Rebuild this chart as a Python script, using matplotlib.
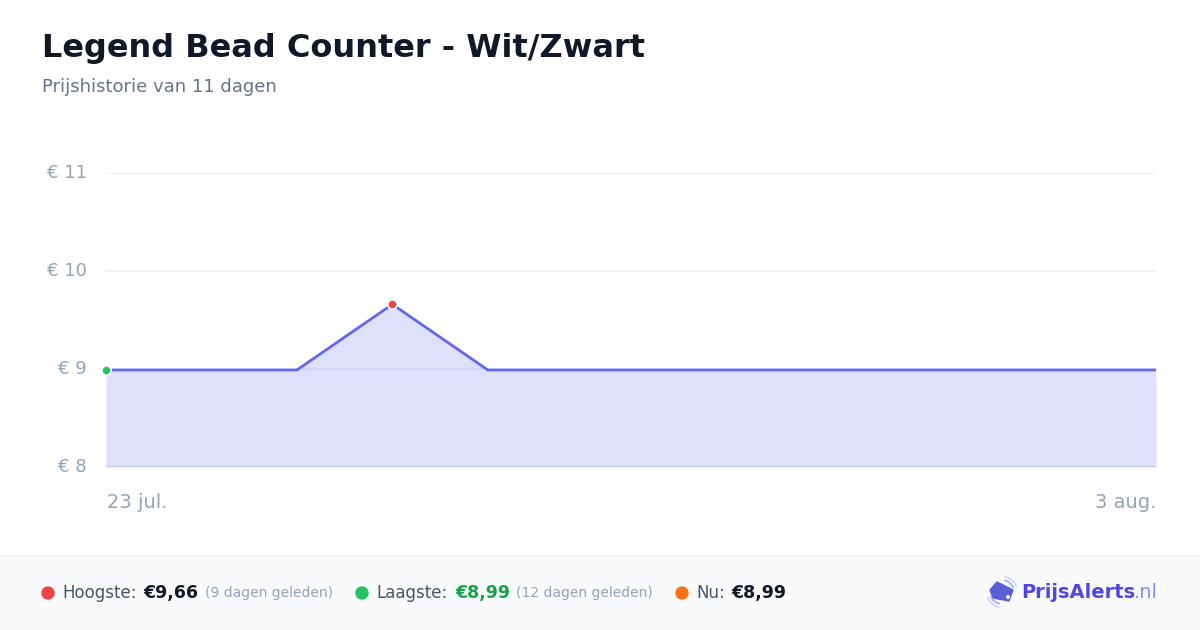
import matplotlib
matplotlib.use("Agg")
import matplotlib.pyplot as plt
import matplotlib.patches as mpatches
from matplotlib.patches import Polygon, Arc, Rectangle
import numpy as np

# ---- data ----
dates = ["23 jul.", "24 jul.", "25 jul.", "26 jul.", "27 jul.", "28 jul.", "29 jul.",
         "30 jul.", "31 jul.", "1 aug.", "2 aug.", "3 aug."]
prices = [8.99, 8.99, 8.99, 9.66, 8.99, 8.99, 8.99, 8.99, 8.99, 8.99, 8.99, 8.99]
y_ticks = [8, 9, 10, 11]
y_tick_labels = ["€ 8", "€ 9", "€ 10", "€ 11"]
x_tick_labels = ["23 jul.", "3 aug."]
title = "Legend Bead Counter - Wit/Zwart"
subtitle = "Prijshistorie van 11 dagen"

plt.rcParams['font.family'] = ['DejaVu Sans']
W, H = 1200, 630
fig = plt.figure(figsize=(W / 100, H / 100), dpi=100)
fig.patch.set_facecolor("white")

def fx(px):
    return px / W

def fy(py):
    return 1 - py / H

# Title & subtitle
fig.text(fx(42), fy(48), title, fontsize=23, fontweight="heavy", color="#111827",
         va="center", ha="left")
fig.text(fx(42), fy(87), subtitle, fontsize=13, color="#64748b", va="center", ha="left")

# Chart axes
ax = fig.add_axes([fx(106), fy(467), fx(1156) - fx(106), fy(173) - fy(467)])
x = np.arange(len(prices))
ax.set_xlim(0, len(prices) - 1)
ax.set_ylim(8, 11)
for yt in y_ticks[1:]:
    ax.axhline(yt, color="#f1f2f4", lw=1.5, zorder=0)
ax.axhline(8, color="#e2e4e9", lw=1.5, zorder=0)
ax.fill_between(x, prices, 8, color="#6366f1", alpha=0.2, lw=0, zorder=1)
ax.plot(x, prices, color="#6366f1", lw=2, zorder=2, solid_joinstyle="miter")
imax = int(np.argmax(prices))
imin = int(np.argmin(prices))
ax.scatter([x[imax]], [prices[imax]], s=45, color="#ef4444", edgecolor="white",
           linewidth=1.2, zorder=5, clip_on=False)
ax.scatter([x[imin]], [prices[imin]], s=45, color="#22c55e", edgecolor="white",
           linewidth=1.2, zorder=5, clip_on=False)
for s in ax.spines.values():
    s.set_visible(False)
ax.set_xticks([])
ax.set_yticks([])
for yt, lab in zip(y_ticks, y_tick_labels):
    ax.text(fx(87), yt, lab, transform=matplotlib.transforms.blended_transform_factory(
        fig.transFigure, ax.transData), ha="right", va="center",
        fontsize=13, color="#94a3b8")
ax.text(fx(107), fy(503), x_tick_labels[0], transform=fig.transFigure, ha="left", va="center",
        fontsize=14, color="#94a3b8")
ax.text(fx(1156), fy(503), x_tick_labels[1], transform=fig.transFigure, ha="right", va="center",
        fontsize=14, color="#94a3b8")

# Footer
footer = Rectangle((0, 0), 1, fy(555), transform=fig.transFigure, facecolor="#f9fafb",
                   edgecolor="none", zorder=-1)
fig.patches.append(footer)
fig.add_artist(plt.Line2D([0, 1], [fy(555), fy(555)], transform=fig.transFigure,
                          color="#eef0f3", lw=1))

fyy = fy(593)

def dot(px, color):
    fig.add_artist(mpatches.Ellipse((fx(px), fyy), width=12 / W, height=12 / H,
                                    transform=fig.transFigure, color=color))

dot(48, "#ef4444")
fig.text(fx(62), fyy, "Hoogste:", fontsize=12, color="#475569", va="center")
fig.text(fx(143), fyy, "€9,66", fontsize=12.5, color="#111827", fontweight="bold", va="center")
fig.text(fx(205), fyy, "(9 dagen geleden)", fontsize=10, color="#94a3b8", va="center")
dot(362, "#22c55e")
fig.text(fx(376), fyy, "Laagste:", fontsize=12, color="#475569", va="center")
fig.text(fx(455), fyy, "€8,99", fontsize=12.5, color="#16a34a", fontweight="bold", va="center")
fig.text(fx(516), fyy, "(12 dagen geleden)", fontsize=10, color="#94a3b8", va="center")
dot(682, "#f97316")
fig.text(fx(696), fyy, "Nu:", fontsize=12, color="#475569", va="center")
fig.text(fx(731), fyy, "€8,99", fontsize=12.5, color="#111827", fontweight="bold", va="center")

# Logo
logo_ax = fig.add_axes([fx(986), fy(610), fx(34), fy(576) - fy(610)])
logo_ax.set_xlim(0, 34)
logo_ax.set_ylim(0, 34)
logo_ax.axis("off")
tag = Polygon([[4, 20], [11, 28], [27, 20], [23, 9], [7, 12]], closed=True,
              facecolor="#5b5fd6", edgecolor="#5b5fd6", lw=1.0, joinstyle="round")
logo_ax.add_patch(tag)
logo_ax.add_patch(mpatches.Circle((22, 13), 1.3, color="white"))
logo_ax.add_patch(Arc((16, 18), 24, 24, theta1=20, theta2=80, color="#a5b4fc", lw=1.3))
logo_ax.add_patch(Arc((16, 18), 31, 31, theta1=20, theta2=80, color="#c7d2fe", lw=1.1))
logo_ax.add_patch(Arc((16, 18), 24, 24, theta1=200, theta2=260, color="#a5b4fc", lw=1.3))
logo_ax.add_patch(Arc((16, 18), 31, 31, theta1=200, theta2=260, color="#c7d2fe", lw=1.1))
fig.text(fx(1021), fyy, "PrijsAlerts", fontsize=14, fontweight="bold", color="#4f46e5",
         va="center", ha="left", zorder=3)
fig.text(fx(1158), fyy, ".nl", fontsize=14, color="#818cf8", va="center", ha="right")

fig.savefig("out.png", dpi=100)
